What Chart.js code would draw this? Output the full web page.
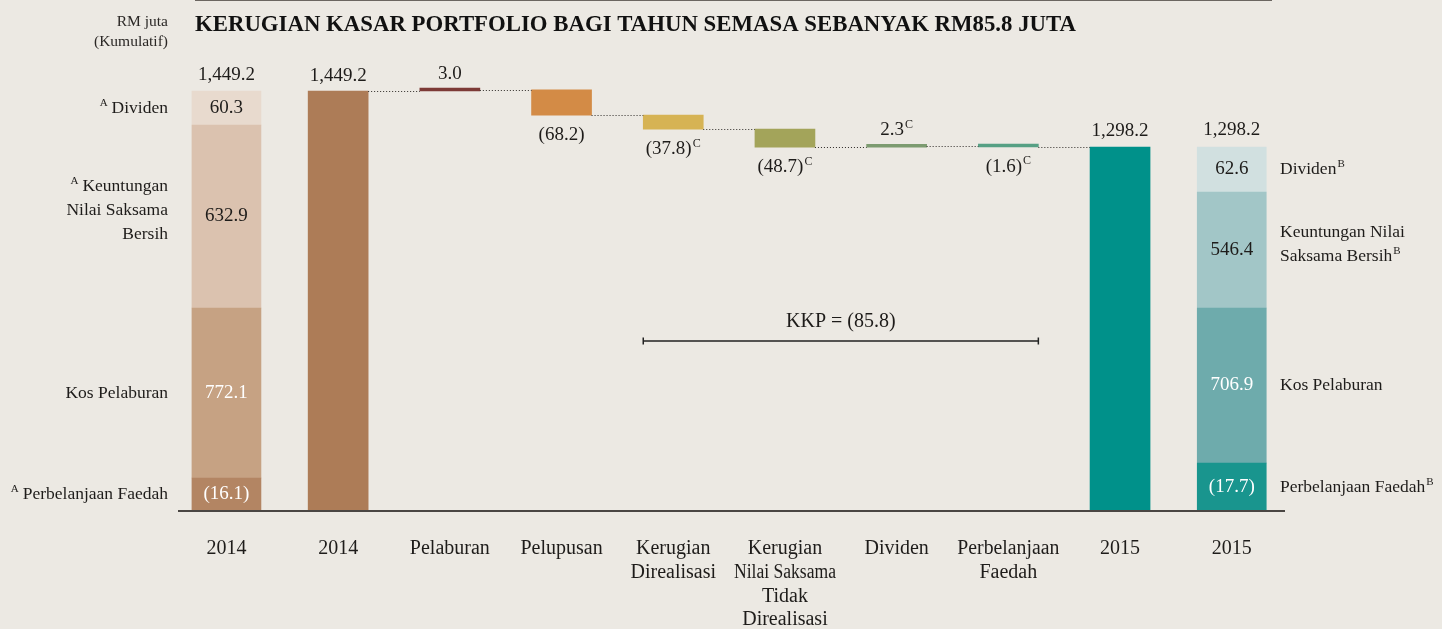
<!DOCTYPE html>
<html>
<head>
<meta charset="utf-8">
<script src="https://cdn.jsdelivr.net/npm/chart.js@4"></script>
<style>
  html, body { margin: 0; padding: 0; background: #ece9e3; }
  #carta { display: block; }
</style>
</head>
<body>
<canvas id="carta" width="1442" height="629"></canvas>
<script>
// kategori paksi-x (baris demi baris)
const kategori = [
    ['2014'], ['2014'], ['Pelaburan'], ['Pelupusan'],
    ['Kerugian', 'Direalisasi'],
    ['Kerugian', 'Nilai Saksama', 'Tidak', 'Direalisasi'],
    ['Dividen'], ['Perbelanjaan', 'Faedah'], ['2015'], ['2015']
];

// nilai RM juta
const jumlah2014 = 1449.2;
const jumlah2015 = 1298.2;
const perubahan = [3.0, -68.2, -37.8, -48.7, 2.3, -1.6];
const labelPerubahan = ['3.0', '(68.2)', '(37.8)', '(48.7)', '2.3', '(1.6)'];
const notaPerubahan = ['', '', 'C', 'C', 'C', 'C'];

// komponen lajur bertindan (bawah ke atas)
const komponenNama2014 = ['Perbelanjaan Faedah', 'Kos Pelaburan', 'Keuntungan Nilai Saksama Bersih', 'Dividen'];
const komponen2014 = [-16.1, 772.1, 632.9, 60.3];
const komponen2015 = [-17.7, 706.9, 546.4, 62.6];
// paras atas setiap segmen seperti dilukis dalam gambar (carta tidak ikut skala)
const paras2014 = [405.8, 864.1, 1357.5, 1449.2];
const paras2015 = [446.2, 864.1, 1176.9, 1298.2];

const kkp = -85.8;

const warna2014 = ['#b38563', '#c6a283', '#dbc2af', '#e8dace'];
const warna2015 = ['#19958e', '#6eabac', '#a2c6c7', '#d1e0e0'];
const warnaAliran = ['#ad7c57', '#7c3a36', '#d38b46', '#d6b354', '#a3a45a', '#7c9b70', '#56a084', '#00918a'];

const paksiMin = 316.8;
const paksiMax = 1586.7;
const FON = '"Liberation Serif", "DejaVu Serif", serif';
const HITAM = '#1e1c1a';

// bina bar terapung untuk air terjun
let paras = [jumlah2014];
for (let i = 0; i < perubahan.length; i++)
    paras.push(Math.round((paras[i] + perubahan[i]) * 10) / 10);

let dataAliran = new Array(10).fill(null);
dataAliran[1] = [paksiMin, jumlah2014];
for (let i = 0; i < perubahan.length; i++)
    dataAliran[i + 2] = [paras[i], paras[i + 1]];
dataAliran[8] = [paksiMin, jumlah2015];

let setData = [];
for (let k = 0; k < 4; k++) {
    let d = new Array(10).fill(null);
    d[0] = [k === 0 ? paksiMin : paras2014[k - 1], paras2014[k]];
    d[9] = [k === 0 ? paksiMin : paras2015[k - 1], paras2015[k]];
    let bg = new Array(10).fill('transparent');
    bg[0] = warna2014[k];
    bg[9] = warna2015[k];
    setData.push({
        label: komponenNama2014[k],
        data: d,
        backgroundColor: bg,
        barThickness: 69,
        grouped: false
    });
}
setData.push({
    label: 'Aliran',
    data: dataAliran,
    backgroundColor: [null].concat(warnaAliran).concat([null]),
    barThickness: 60,
    minBarLength: 3,
    grouped: false
});

function tulis(ctx, str, x, y, size, align, color, bold, maxW) {
    ctx.font = (bold ? 'bold ' : '') + size + 'px ' + FON;
    ctx.textAlign = align;
    ctx.textBaseline = 'middle';
    ctx.fillStyle = color;
    if (maxW) ctx.fillText(str, x, y, maxW);
    else ctx.fillText(str, x, y);
}

// teks dengan huruf nota kecil (sebelum atau selepas)
function tulisNota(ctx, str, nota, x, y, size, align, color, sebelum) {
    ctx.font = size + 'px ' + FON;
    let wUtama = ctx.measureText(str).width;
    ctx.font = Math.round(size * 0.62) + 'px ' + FON;
    let wNota = nota ? ctx.measureText(nota).width + (sebelum ? 4 : 1) : 0;
    let total = wUtama + wNota;
    let x0 = align === 'center' ? x - total / 2 : align === 'right' ? x - total : x;
    ctx.textBaseline = 'middle';
    ctx.fillStyle = color;
    ctx.textAlign = 'left';
    if (sebelum) {
        ctx.fillText(nota, x0, y - size * 0.3);
        ctx.font = size + 'px ' + FON;
        ctx.fillText(str, x0 + wNota, y);
    } else {
        ctx.font = size + 'px ' + FON;
        ctx.fillText(str, x0, y);
        if (nota) {
            ctx.font = Math.round(size * 0.62) + 'px ' + FON;
            ctx.fillText(nota, x0 + wUtama + 1, y - size * 0.3);
        }
    }
}

function fmt(v) {
    let s = Math.abs(v).toLocaleString('en-US', {minimumFractionDigits: 1, maximumFractionDigits: 1});
    return v < 0 ? '(' + s + ')' : s;
}

const pluginLabel = {
    id: 'labelKerugian',
    afterDatasetsDraw(chart) {
        const ctx = chart.ctx;
        const xs = chart.scales.x, ys = chart.scales.y;
        const aliran = chart.getDatasetMeta(4).data;
        ctx.save();

        // garisan titik penyambung
        ctx.strokeStyle = '#2e2a27';
        ctx.lineWidth = 1;
        ctx.setLineDash([1, 2]);
        for (let i = 1; i <= 7; i++) {
            let a = aliran[i], b = aliran[i + 1];
            let y = Math.round(ys.getPixelForValue(paras[i - 1])) + 0.5;
            ctx.beginPath();
            ctx.moveTo(a.x + a.width / 2, y);
            ctx.lineTo(b.x - b.width / 2, y);
            ctx.stroke();
        }
        ctx.setLineDash([]);

        // label atas/bawah bar air terjun
        tulis(ctx, fmt(jumlah2014), aliran[1].x, Math.min(aliran[1].y, aliran[1].base) - 15, 19, 'center', HITAM);
        tulis(ctx, fmt(jumlah2015), aliran[8].x, Math.min(aliran[8].y, aliran[8].base) - 16, 19, 'center', HITAM);
        for (let i = 0; i < perubahan.length; i++) {
            let el = aliran[i + 2];
            let atas = Math.min(el.y, el.base), bawah = Math.max(el.y, el.base);
            if (perubahan[i] > 0)
                tulisNota(ctx, labelPerubahan[i], notaPerubahan[i], el.x, atas - 14, 19, 'center', HITAM, false);
            else
                tulisNota(ctx, labelPerubahan[i], notaPerubahan[i], el.x, bawah + 20, 19, 'center', HITAM, false);
        }

        // lajur bertindan
        const seg = [0, 1, 2, 3].map(k => chart.getDatasetMeta(k).data);
        tulis(ctx, fmt(jumlah2014), seg[3][0].x, seg[3][0].y - 16, 19, 'center', HITAM);
        tulis(ctx, fmt(jumlah2015), seg[3][9].x, seg[3][9].y - 17, 19, 'center', HITAM);
        for (let k = 0; k < 4; k++) {
            let warnaTeks = k < 2 ? '#ffffff' : HITAM;
            let e0 = seg[k][0], e9 = seg[k][9];
            tulis(ctx, fmt(komponen2014[k]), e0.x, (e0.y + e0.base) / 2, 19, 'center', warnaTeks);
            tulis(ctx, fmt(komponen2015[k]), e9.x, (e9.y + e9.base) / 2, 19, 'center', warnaTeks);
        }

        // label sisi kiri
        const cy = k => (seg[k][0].y + seg[k][0].base) / 2;
        const cy2 = k => (seg[k][9].y + seg[k][9].base) / 2;
        tulisNota(ctx, 'Dividen', 'A', 168, cy(3), 17.5, 'right', HITAM, true);
        tulisNota(ctx, 'Keuntungan', 'A', 168, cy(2) - 30, 17.5, 'right', HITAM, true);
        tulis(ctx, 'Nilai Saksama', 168, cy(2) - 6, 17.5, 'right', HITAM);
        tulis(ctx, 'Bersih', 168, cy(2) + 18, 17.5, 'right', HITAM);
        tulis(ctx, 'Kos Pelaburan', 168, cy(1), 17.5, 'right', HITAM);
        tulisNota(ctx, 'Perbelanjaan Faedah', 'A', 168, cy(0), 17.5, 'right', HITAM, true);

        // label sisi kanan
        tulisNota(ctx, 'Dividen', 'B', 1280, cy2(3), 17.5, 'left', HITAM, false);
        tulis(ctx, 'Keuntungan Nilai', 1280, cy2(2) - 18, 17.5, 'left', HITAM);
        tulisNota(ctx, 'Saksama Bersih', 'B', 1280, cy2(2) + 6, 17.5, 'left', HITAM, false);
        tulis(ctx, 'Kos Pelaburan', 1280, cy2(1), 17.5, 'left', HITAM);
        tulisNota(ctx, 'Perbelanjaan Faedah', 'B', 1280, cy2(0), 17.5, 'left', HITAM, false);

        // garis paksi bawah
        let yb = ys.getPixelForValue(paksiMin);
        ctx.strokeStyle = '#4a4643';
        ctx.lineWidth = 2;
        ctx.beginPath();
        ctx.moveTo(178, yb);
        ctx.lineTo(1285, yb);
        ctx.stroke();

        // label kategori
        for (let i = 0; i < kategori.length; i++) {
            let x = xs.getPixelForValue(i);
            kategori[i].forEach((baris, j) => tulis(ctx, baris, x, 549 + j * 23.7, 20, 'center', HITAM, false, 102));
        }

        // KKP
        let kiri = aliran[4].x - aliran[4].width / 2;
        let kanan = aliran[7].x + aliran[7].width / 2;
        ctx.strokeStyle = '#222';
        ctx.lineWidth = 1.5;
        ctx.beginPath();
        ctx.moveTo(kiri, 341); ctx.lineTo(kanan, 341);
        ctx.moveTo(kiri, 337.5); ctx.lineTo(kiri, 344.5);
        ctx.moveTo(kanan, 337.5); ctx.lineTo(kanan, 344.5);
        ctx.stroke();
        tulis(ctx, 'KKP = ' + fmt(kkp), (kiri + kanan) / 2, 322, 20, 'center', HITAM);

        // tajuk
        ctx.strokeStyle = '#6b6661';
        ctx.lineWidth = 2;
        ctx.beginPath();
        ctx.moveTo(195, 0); ctx.lineTo(1272, 0);
        ctx.stroke();
        tulis(ctx, 'KERUGIAN KASAR PORTFOLIO BAGI TAHUN SEMASA SEBANYAK RM85.8 JUTA', 195, 25, 22.8, 'left', '#111', true);
        tulis(ctx, 'RM juta', 168, 22, 15.5, 'right', '#2a2725');
        tulis(ctx, '(Kumulatif)', 168, 42, 15.5, 'right', '#2a2725');

        ctx.restore();
    }
};

const data = {
    labels: kategori,
    datasets: setData
};
const config = {
    type: 'bar',
    data: data,
    options: {
        responsive: false,
        animation: false,
        layout: {padding: {left: 170.6, right: 154.4, top: 40, bottom: 118}},
        plugins: {legend: {display: false}, tooltip: {enabled: false}},
        scales: {
            x: {display: false, grid: {display: false}},
            y: {display: false, min: paksiMin, max: paksiMax, grid: {display: false}}
        }
    },
    plugins: [pluginLabel]
};

let ctx = document.getElementById('carta').getContext('2d');
new Chart(ctx, config);
</script>
</body>
</html>
